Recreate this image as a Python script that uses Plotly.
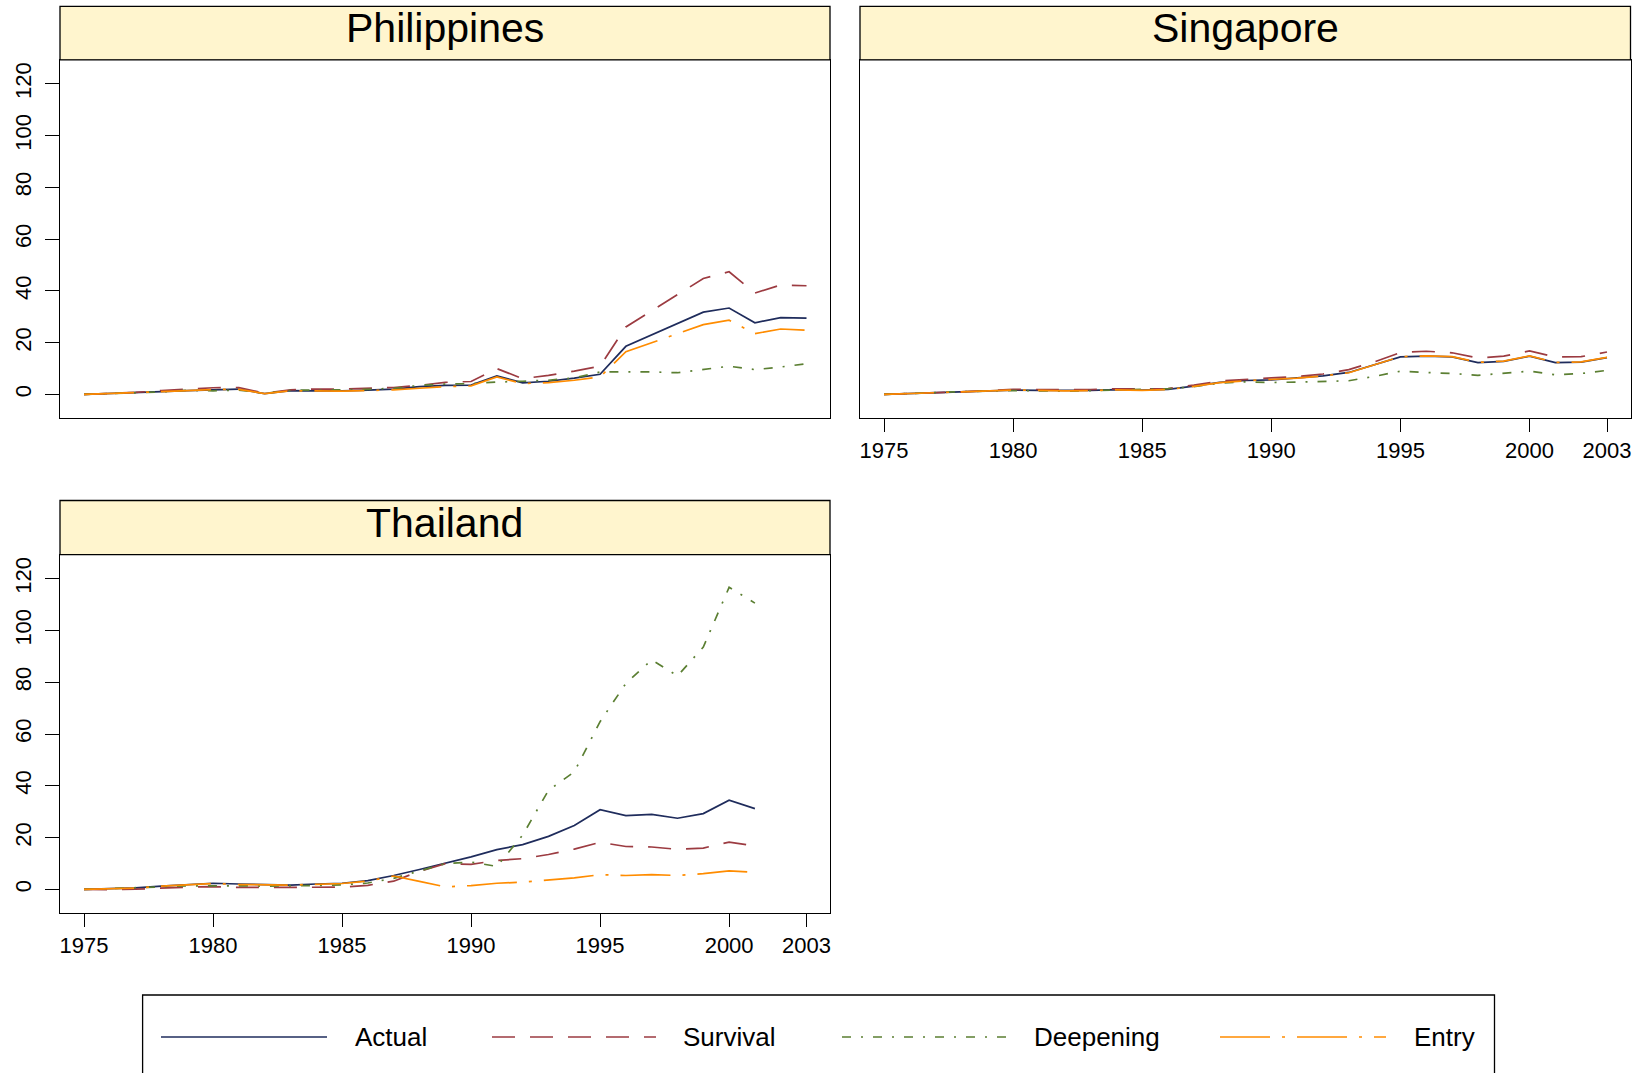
import plotly.graph_objects as go

W, H = 1644, 1073

# ---------------- data ----------------
years_ph = list(range(1975, 2004))
years_sg = list(range(1975, 2004))
years_th = list(range(1975, 2002))

ph_actual = [0, 0.3, 0.6, 1.1, 1.5, 1.9, 2.1, 0.3, 1.5, 1.4, 1.4, 1.7, 2.1, 3.0, 3.5, 3.6,
             7.2, 4.5, 5.1, 6.3, 7.8, 18.6, 23.0, 27.4, 31.8, 33.4, 27.7, 29.7, 29.5]
ph_survival = [0, 0.4, 0.8, 1.5, 2.0, 2.6, 2.7, 0.5, 1.8, 2.1, 2.1, 2.3, 2.7, 3.5, 4.7, 5.0,
               10.0, 6.1, 7.4, 9.0, 10.9, 26.1, 32.4, 38.5, 44.8, 47.4, 39.2, 42.3, 42.0]
ph_deepening = [0, 0.3, 0.6, 1.0, 1.6, 1.4, 1.7, 0.4, 1.6, 1.6, 1.8, 2.0, 2.4, 3.5, 4.0, 4.2,
                4.8, 5.1, 5.5, 6.4, 8.7, 8.7, 8.7, 8.4, 9.7, 10.9, 9.6, 10.6, 11.9]
ph_entry = [0, 0.3, 0.6, 1.1, 1.5, 1.9, 2.0, 0.3, 1.4, 1.3, 1.3, 1.5, 1.8, 2.4, 3.0, 3.3,
            6.8, 4.2, 4.6, 5.5, 6.8, 16.5, 20.0, 23.5, 27.0, 28.7, 23.5, 25.3, 24.8]

sg_actual = [0, 0.3, 0.6, 0.9, 1.3, 1.7, 1.6, 1.5, 1.6, 1.9, 1.7, 2.0, 3.2, 4.7, 5.4, 5.6,
             6.3, 7.2, 8.5, 11.5, 14.5, 14.8, 14.5, 12.3, 12.8, 14.8, 12.3, 12.5, 14.2]
sg_survival = [0, 0.3, 0.6, 1.0, 1.5, 2.0, 1.9, 1.8, 1.9, 2.2, 2.1, 2.3, 3.6, 5.2, 5.9, 6.4,
               6.9, 7.9, 9.6, 12.6, 16.2, 16.7, 16.1, 14.1, 14.8, 16.8, 14.5, 14.6, 16.4]
sg_deepening = [0, 0.4, 0.7, 1.1, 1.3, 1.5, 1.4, 1.2, 1.5, 1.7, 1.8, 2.2, 3.0, 4.4, 4.9, 4.6,
                4.8, 5.1, 5.3, 7.0, 9.0, 8.5, 8.1, 7.4, 8.1, 9.0, 7.6, 8.1, 9.3]
sg_entry = [0, 0.3, 0.6, 0.9, 1.3, 1.7, 1.6, 1.4, 1.5, 1.8, 1.6, 1.9, 3.1, 4.6, 5.3, 5.7,
            6.3, 7.1, 8.4, 11.5, 14.6, 14.9, 14.6, 12.4, 12.9, 14.9, 12.4, 12.6, 14.3]

th_actual = [0, 0.3, 0.6, 1.3, 1.9, 2.4, 2.1, 1.8, 1.7, 2.1, 2.4, 3.4, 5.4, 7.7, 10.2, 12.6,
             15.4, 17.3, 20.5, 24.7, 30.8, 28.5, 29.0, 27.5, 29.3, 34.5, 31.2]
th_survival = [0, -0.1, 0.1, 0.6, 0.9, 1.1, 0.8, 0.8, 0.8, 0.8, 0.9, 1.6, 3.2, 7.0, 10.0, 9.7,
               11.2, 11.9, 13.5, 15.6, 18.2, 16.6, 16.4, 15.5, 16.0, 18.3, 16.8]
th_deepening = [0, 0.3, 0.5, 1.0, 1.4, 1.5, 1.4, 1.3, 1.3, 1.5, 1.8, 2.5, 4.3, 7.0, 10.0, 10.6,
                8.9, 21.0, 38.3, 45.4, 64.8, 79.6, 88.7, 82.5, 93.6, 116.7, 110.6]
th_entry = [0, 0.3, 0.5, 1.3, 1.8, 2.3, 1.9, 1.8, 1.7, 2.0, 2.3, 3.2, 5.2, 3.1, 1.0, 1.5,
            2.4, 2.8, 3.7, 4.5, 5.7, 5.4, 5.7, 5.4, 6.1, 7.2, 6.6]

series_names = ["Actual", "Survival", "Deepening", "Entry"]
panel_names = ["Philippines", "Singapore", "Thailand"]
x_tickvals = [1975, 1980, 1985, 1990, 1995, 2000, 2003]
y_tickvals = [0, 20, 40, 60, 80, 100, 120]

# ---------------- styles ----------------
colors = {"Actual": "#1f2c5c", "Survival": "#9c3b41", "Deepening": "#5b7f32", "Entry": "#ff8c00"}
dashes = {"Actual": "solid", "Survival": "23px,15px",
          "Deepening": "9px,10px,2px,10px", "Entry": "50px,12px,3px,12px"}
FONT = "Liberation Sans, Arial, Helvetica, sans-serif"
STRIP = "#FFF5CE"
LW = 1.7
BW = 1.3


def pxx(x):
    return x / W


def pyy(y):
    return 1 - y / H


panel_data = {
    "Philippines": (years_ph, [ph_actual, ph_survival, ph_deepening, ph_entry], "x", "y"),
    "Singapore": (years_sg, [sg_actual, sg_survival, sg_deepening, sg_entry], "x2", "y2"),
    "Thailand": (years_th, [th_actual, th_survival, th_deepening, th_entry], "x3", "y3"),
}

fig = go.Figure()
for pname in panel_names:
    yrs, vals, xa, ya = panel_data[pname]
    for sname, v in zip(series_names, vals):
        fig.add_trace(go.Scatter(
            x=yrs, y=v, mode="lines", xaxis=xa, yaxis=ya, showlegend=False,
            line=dict(color=colors[sname], width=LW, dash=dashes[sname]),
            name=sname, hoverinfo="skip"))

# panel geometry (page pixels)
col_x = {"Philippines": (60, 830), "Singapore": (860, 1630.5), "Thailand": (60, 830)}
row_y = {"Philippines": (6.3, 59.8, 417.5), "Singapore": (6.3, 59.8, 417.5),
         "Thailand": (500.5, 554.7, 912.5)}

XR = [1974.07, 2003.91]
YR = [-8.9, 129.3]

common_x = dict(range=XR, showgrid=False, zeroline=False, showline=True, mirror=True,
                linecolor="black", linewidth=BW, tickvals=x_tickvals,
                tickfont=dict(family=FONT, size=22, color="black"),
                tickcolor="black", tickwidth=BW, ticklen=13)
common_y = dict(range=YR, showgrid=False, zeroline=False, showline=True, mirror=True,
                linecolor="black", linewidth=BW, tickvals=y_tickvals,
                tickfont=dict(family=FONT, size=22, color="black"),
                tickcolor="black", tickwidth=BW, ticklen=14, tickangle=-90,
                ticklabelstandoff=5)

axes = {}
for i, pname in enumerate(panel_names):
    sfx = "" if i == 0 else str(i + 1)
    x0, x1 = col_x[pname]
    st, sb, pb = row_y[pname]
    xa = dict(common_x, domain=[pxx(x0), pxx(x1)], anchor="y" + sfx)
    ya = dict(common_y, domain=[pyy(pb), pyy(sb)], anchor="x" + sfx)
    if pname == "Philippines":
        xa.update(ticks="", showticklabels=False)
        ya.update(ticks="outside")
    elif pname == "Singapore":
        xa.update(ticks="outside")
        ya.update(ticks="", showticklabels=False)
    else:
        xa.update(ticks="outside")
        ya.update(ticks="outside")
    axes["xaxis" + sfx] = xa
    axes["yaxis" + sfx] = ya

shapes = []
annotations = []
for pname in panel_names:
    x0, x1 = col_x[pname]
    st, sb, pb = row_y[pname]
    shapes.append(dict(type="rect", xref="paper", yref="paper",
                       x0=pxx(x0), x1=pxx(x1), y0=pyy(sb), y1=pyy(st),
                       fillcolor=STRIP, line=dict(color="black", width=BW), layer="above"))
    annotations.append(dict(text=pname, xref="paper", yref="paper",
                            x=pxx((x0 + x1) / 2), y=pyy((st + sb) / 2 - 5),
                            xanchor="center", yanchor="middle", showarrow=False,
                            font=dict(family=FONT, size=41, color="black")))

# legend (drawn at the bottom, as in the original)
shapes.append(dict(type="rect", xref="paper", yref="paper",
                   x0=pxx(142.6), x1=pxx(1494.5), y0=pyy(1110), y1=pyy(995),
                   fillcolor="rgba(0,0,0,0)", line=dict(color="black", width=BW)))
leg_y = 1037
leg_items = {"Actual": (161, 327, 353), "Survival": (492, 656, 681),
             "Deepening": (842, 1009, 1032), "Entry": (1220, 1386, 1412)}
for sname in series_names:
    lx0, lx1, tx = leg_items[sname]
    shapes.append(dict(type="line", xref="paper", yref="paper",
                       x0=pxx(lx0), x1=pxx(lx1), y0=pyy(leg_y), y1=pyy(leg_y),
                       line=dict(color=colors[sname], width=LW, dash=dashes[sname])))
    annotations.append(dict(text=sname, xref="paper", yref="paper",
                            x=pxx(tx), y=pyy(leg_y), xanchor="left", yanchor="middle",
                            showarrow=False, font=dict(family=FONT, size=26, color="black")))

fig.update_layout(
    width=W, height=H, autosize=False,
    margin=dict(l=0, r=0, t=0, b=0),
    paper_bgcolor="white", plot_bgcolor="white",
    font=dict(family=FONT, color="black"),
    shapes=shapes, annotations=annotations, showlegend=False,
    **axes)

fig.write_html(
    "out.html", config={"displayModeBar": False},
    post_script="document.body.style.margin='0px';"
                "document.body.style.overflow='hidden';"
                "document.documentElement.style.overflow='hidden';")
